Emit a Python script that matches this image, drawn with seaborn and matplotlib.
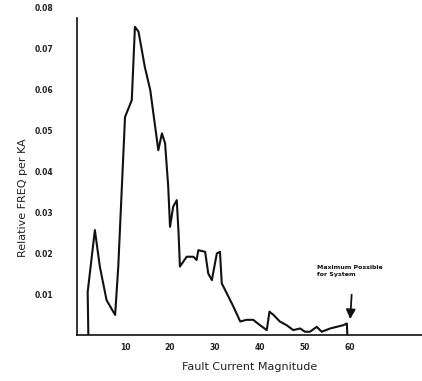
import numpy as np
import pandas as pd
import matplotlib
matplotlib.use('Agg')
import matplotlib.pyplot as plt
import seaborn as sns

# Values
fault_current = [1.85, 1.7, 3.3, 4.4, 5.9, 7.8, 8.5, 9.3, 10.0, 11.5, 12.2, 13.0,
                 14.4, 15.6, 16.7, 17.4, 18.2, 18.9, 19.6, 20.0, 20.7, 21.5, 21.9,
                 22.2, 23.7, 25.2, 25.9, 26.3, 27.8, 28.5, 29.3, 30.4, 31.1, 31.5,
                 32.6, 34.1, 35.6, 37.0, 38.5, 40.0, 41.5, 42.1, 43.0, 44.4, 45.9,
                 47.4, 48.9, 50.0, 51.1, 52.6, 53.7, 55.6, 58.5, 59.3, 59.4]
rel_freq = [0.0, 0.0105, 0.0256, 0.0167, 0.0085, 0.0049, 0.0167, 0.0362, 0.0532,
            0.0573, 0.0752, 0.0740, 0.0654, 0.0598, 0.0508, 0.0451, 0.0492, 0.0468,
            0.0362, 0.0264, 0.0313, 0.0329, 0.0248, 0.0167, 0.0191, 0.0191, 0.0183,
            0.0207, 0.0203, 0.0150, 0.0134, 0.0199, 0.0203, 0.0126, 0.0102, 0.0069,
            0.0033, 0.0037, 0.0037, 0.0024, 0.0012, 0.0057, 0.0049, 0.0033, 0.0024,
            0.0012, 0.0016, 0.0008, 0.0008, 0.0020, 0.0008, 0.0016, 0.0024, 0.0028,
            0.0]

x_ticks = [10, 20, 30, 40, 50, 60]
x_tick_labels = ['10', '20', '30', '40', '50', '60']
y_ticks = [0.01, 0.02, 0.03, 0.04, 0.05, 0.06, 0.07, 0.08]
y_tick_labels = ['0.01', '0.02', '0.03', '0.04', '0.05', '0.06', '0.07', '0.08']

df = pd.DataFrame({'current': fault_current, 'freq': rel_freq})

sns.set_style('white')
plt.rcParams['font.family'] = ['DejaVu Sans']

fig = plt.figure(figsize=(4.22, 3.81), dpi=100)
ax = fig.add_axes([0.1825, 0.1207, 0.8175, 0.8767])

sns.lineplot(data=df, x='current', y='freq', sort=False, estimator=None,
             color='#111111', linewidth=1.5, ax=ax)

ax.set_xlim(-0.67, 76)
ax.set_ylim(0, 0.0815)

for s in ['top', 'right']:
    ax.spines[s].set_visible(False)
for s in ['left', 'bottom']:
    ax.spines[s].set_color('#111111')
    ax.spines[s].set_linewidth(1.2)
ax.spines['left'].set_bounds(0, 0.0773)

ax.set_yticks(y_ticks)
ax.set_yticklabels(y_tick_labels, fontsize=5.5, fontweight='bold', color='#222222')
ax.set_xticks(x_ticks)
ax.set_xticklabels(x_tick_labels, fontsize=5.5, fontweight='bold', color='#222222')
ax.tick_params(axis='y', direction='inout', length=6, width=0.9, pad=14, color='#333333')
ax.tick_params(axis='x', direction='in', length=3, width=0.9, pad=6, color='#333333')
ax.yaxis.get_major_ticks()[-1].tick1line.set_visible(False)

ax.set_xlabel('Fault Current Magnitude', fontsize=8, color='#222222', labelpad=7)
ax.set_ylabel('Relative FREQ per KA', fontsize=8, color='#222222')
ax.yaxis.set_label_coords(-0.142, 0.41)

ax.text(52.7, 0.0172, 'Maximum Possible\nfor System', fontsize=4.5, fontweight='bold',
        va='top', ha='left', linespacing=1.6, color='#111111')
ax.annotate('', xy=(60.0, 0.0032), xytext=(60.4, 0.0105),
            arrowprops=dict(arrowstyle='-|>', mutation_scale=14, color='#111111', lw=1.3))

fig.savefig('out.png', dpi=100)
